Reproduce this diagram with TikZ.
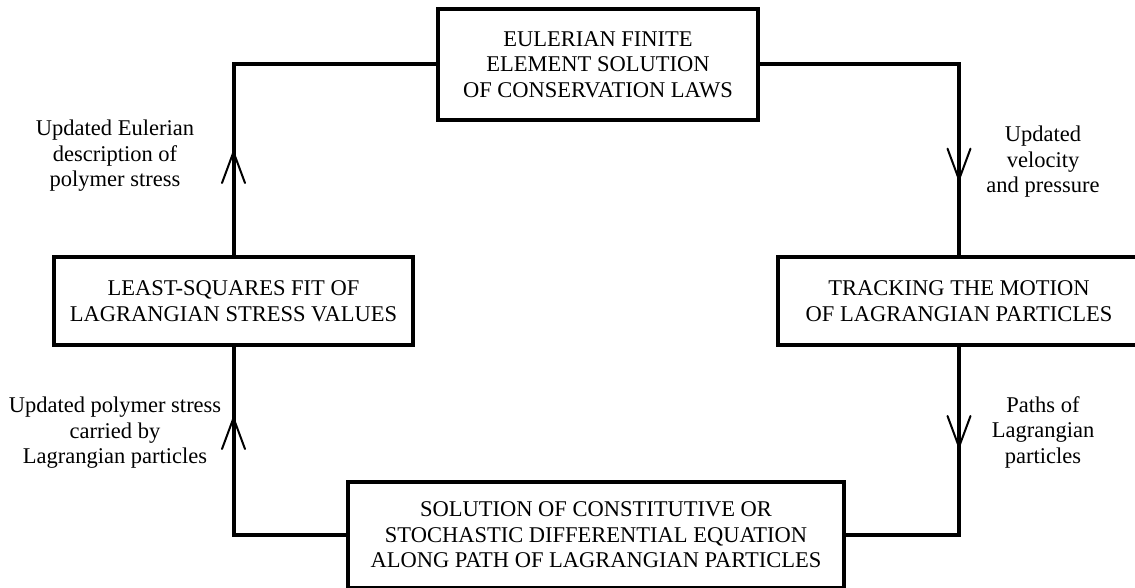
\documentclass[tikz,border=0pt]{standalone}
\usepackage{fontspec}
\setmainfont{Liberation Serif}
\usetikzlibrary{decorations.markings}
\begin{document}
\begin{tikzpicture}[x=1pt,y=-1pt,
  box/.style={draw, line width=4pt, outer sep=0pt, inner sep=0pt, align=center,
    font=\fontsize{22.5}{25.5}\selectfont},
  lbl/.style={align=center, inner sep=0pt, font=\fontsize{22.5}{25.5}\selectfont},
  conn/.style={line width=4pt},
  vhead/.style={postaction={decorate}, decoration={markings,
    mark=at position #1 with {\draw[line width=2pt, line cap=round] (-31pt,11.5pt) -- (0pt,0pt) -- (-31pt,-11.5pt);}}}
  ]
\useasboundingbox (0,0) rectangle (1135,588);
\fill[white] (0,0) rectangle (1135,588);

\node[box, minimum width=319.3pt, minimum height=111.3pt] (top) at (598,64.5)
  {EULERIAN FINITE\\ELEMENT SOLUTION\\OF CONSERVATION LAWS};
\node[box, minimum width=359pt, minimum height=88pt] (left) at (233.5,301)
  {LEAST-SQUARES FIT OF\\LAGRANGIAN STRESS VALUES};
\node[box, minimum width=362pt, minimum height=88pt] (right) at (959,301)
  {TRACKING THE MOTION\\OF LAGRANGIAN PARTICLES};
\node[box, minimum width=496pt, minimum height=106pt] (bottom) at (596,535)
  {SOLUTION OF CONSTITUTIVE OR\\STOCHASTIC DIFFERENTIAL EQUATION\\ALONG PATH OF LAGRANGIAN PARTICLES};

\draw[conn, vhead=316.5pt] (top.east) -| (right.north);
\draw[conn, vhead=102pt] (right.south) |- (bottom.east);
\draw[conn, vhead=231.5pt] (bottom.west) -| (left.south);
\draw[conn, vhead=105pt] (left.north) |- (top.west);

\node[lbl] (l1) at (115,156) {Updated Eulerian\\description of\\polymer stress};
\node[lbl] (l2) at (1043,162) {Updated\\velocity\\and pressure};
\node[lbl] (l3) at (115,433) {Updated polymer stress\\carried by\\Lagrangian particles};
\node[lbl] (l4) at (1043,432) {Paths of\\Lagrangian\\particles};
\end{tikzpicture}
\end{document}
